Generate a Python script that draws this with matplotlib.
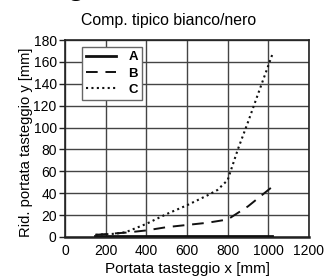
import matplotlib
matplotlib.use("Agg")
import matplotlib.pyplot as plt

plt.rcParams['font.family'] = ['Liberation Sans', 'DejaVu Sans']

title = "Comp. tipico bianco/nero"
xlabel = "Portata tasteggio x [mm]"
ylabel = "Rid. portata tasteggio y [mm]"
labels = ["A", "B", "C"]

xa = [150, 400, 600, 800, 1020]
ya = [0.8, 0.8, 0.8, 0.8, 0.8]
xb = [150, 300, 400, 500, 600, 700, 800, 900, 1020]
yb = [2, 4, 6, 9, 11, 13, 16, 28, 46]
xc = [150, 250, 300, 400, 500, 600, 700, 750, 800, 850, 900, 950, 1020]
yc = [2, 3, 4.5, 12, 21, 29, 38, 43, 52, 80, 105, 131, 167]

xticks = [0, 200, 400, 600, 800, 1000, 1200]
yticks = [0, 20, 40, 60, 80, 100, 120, 140, 160, 180]

fig = plt.figure(figsize=(3.24, 2.78), dpi=100)
ax = fig.add_axes([0.2006, 0.1475, 0.7531, 0.7085])

ax.plot(xa, ya, color='#111111', lw=2.0, linestyle='-', label=labels[0], zorder=3)
ax.plot(xb, yb, color='#111111', lw=1.4, linestyle=(0, (6, 4)), label=labels[1], zorder=3)
ax.plot(xc, yc, color='#111111', lw=1.5, linestyle=(0, (1, 1.6)), label=labels[2], zorder=3)

ax.set_xlim(0, 1200)
ax.set_ylim(0, 180)
ax.set_xticks(xticks)
ax.set_yticks(yticks)
ax.grid(True, color='#444444', lw=1.0)
ax.set_axisbelow(True)
ax.tick_params(axis='y', labelsize=10, length=4, width=1, pad=2, color='#222222')
ax.tick_params(axis='x', labelsize=10, length=0, pad=5)
for s in ax.spines.values():
    s.set_color('#222222')
    s.set_linewidth(1.2)
ax.spines['bottom'].set_linewidth(1.8)

fig.text(0.519, 0.928, title, fontsize=11.4, ha='center', va='center')
fig.text(0.578, 0.018, xlabel, fontsize=11, ha='center', va='baseline')
fig.text(0.08, 0.487, ylabel, fontsize=10.6, ha='center', va='center', rotation=90)

leg = ax.legend(loc='upper left', bbox_to_anchor=(0.07, 0.964), borderaxespad=0,
                frameon=True, fancybox=False, edgecolor='#666666', fontsize=9.5,
                handlelength=2.3, handletextpad=0.9, borderpad=0.3,
                labelspacing=0.3, framealpha=1)
leg.get_frame().set_linewidth(1.0)
for t in leg.get_texts():
    t.set_fontweight('bold')

fig.text(0.235, 1.05, "g", fontsize=22, fontweight='bold', va='center', ha='center')

fig.savefig("out.png", dpi=100)
